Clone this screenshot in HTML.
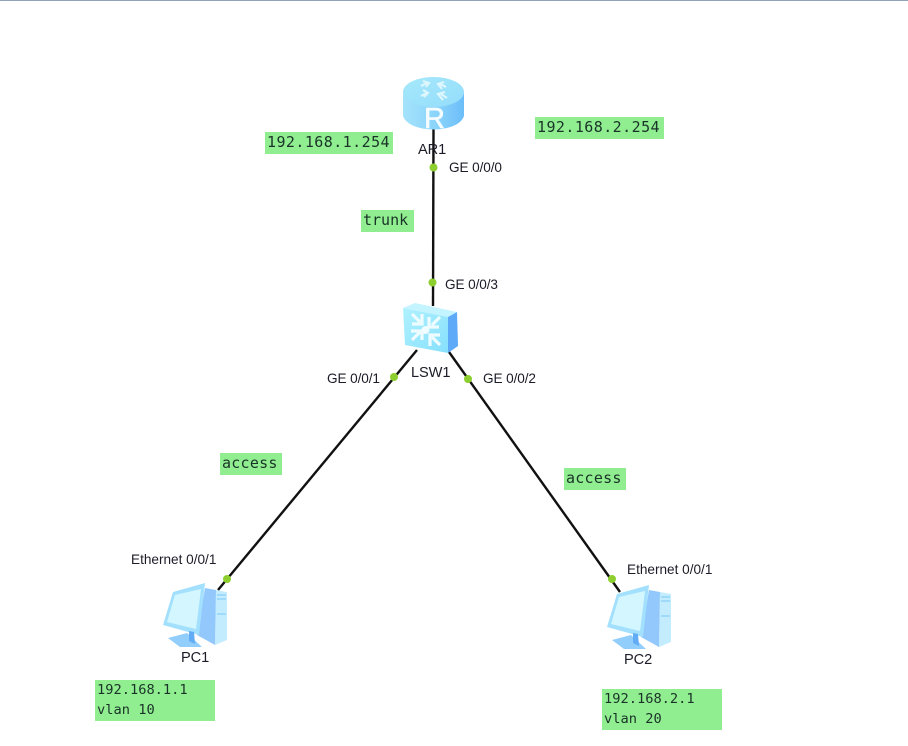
<!DOCTYPE html>
<html>
<head>
<meta charset="utf-8">
<style>
html,body{margin:0;padding:0;width:908px;height:746px;background:#fff;overflow:hidden}
#w{position:relative;width:908px;height:746px;overflow:hidden}
.t{position:absolute;background:#90ee90;color:#1a3328;font-family:"DejaVu Sans Mono","Liberation Mono",monospace;font-size:15px;line-height:21px;white-space:pre;padding-left:2px;box-sizing:border-box}
.s{font-size:13.7px;line-height:20px;letter-spacing:0}
.l{position:absolute;font-family:"Liberation Sans",sans-serif;font-size:13.6px;line-height:14px;color:#1c1c28;white-space:pre;letter-spacing:-0.1px}
.n{font-size:14.6px}
svg{position:absolute;left:0;top:0}
.ic{filter:blur(.35px)}
</style>
</head>
<body>
<div id="w">
<div style="position:absolute;left:0;top:0;width:908px;height:1px;background:#8fa3b8"></div>
<svg width="908" height="746" viewBox="0 0 908 746">
<defs>
<linearGradient id="rs" x1="0" x2="1" y1="0" y2="0"><stop offset="0" stop-color="#a5e3fb"/><stop offset="0.6" stop-color="#88d2fb"/><stop offset="1" stop-color="#6cbdf9"/></linearGradient>
<linearGradient id="rt" x1="0" x2="1" y1="0" y2="1"><stop offset="0" stop-color="#a6e9fb"/><stop offset="1" stop-color="#93dcfb"/></linearGradient>
<linearGradient id="sw" x1="0" x2="1" y1="0" y2="1"><stop offset="0" stop-color="#b0f1ff"/><stop offset="1" stop-color="#86e0fc"/></linearGradient>
<g id="pc" class="ic">
<path d="M54 8 L65 10 L65 58 L53 63 Z" fill="#c4ecff"/>
<path d="M43 6 L54 8 L53 63 L35 53 Z" fill="#92c8fb"/>
<path d="M55 13 H64 M55 17 H64 M55 32 H64" stroke="#8bd0f8" stroke-width="1.2"/>
<path d="M1 43 L11 10 L43 1 L37 53 Z" fill="#a2e0fd"/>
<path d="M5 40 L13 13 L39 7 L34 47 Z" fill="#d4f7ff"/>
<path d="M6 56 L25 51 L40 65 L18 65 Z" fill="#92cefb"/>
<path d="M27 49 L32 50 L33 62 L27 59 Z" fill="#62acf6"/>
</g>
</defs>
<g stroke="#111" stroke-width="2.4" fill="none">
<line x1="433.500" y1="128" x2="433" y2="306"/>
<line x1="417" y1="350" x2="218" y2="590"/>
<line x1="449" y1="352" x2="620" y2="592"/>
</g>
<g class="ic" transform="translate(403,76)">
<path d="M0 17 V40 C6 58 55 58 61 40 V17 Z" fill="url(#rs)"/>
<ellipse cx="30.500" cy="16" rx="30.500" ry="15" fill="url(#rt)"/>
<g fill="none" stroke="#def6fd" stroke-width="2.2">
<path d="M18 10 L24 7 M20 5 L26 7 L23 11"/>
<path d="M43 11 L37 8 M39 13 L35 8 L41 6"/>
<path d="M18 20 L24 17 M20 14 L25 17 L21 21"/>
<path d="M44 22 L38 18 M40 24 L35 18 L42 16"/>
</g>
</g>
<text class="ic" x="434.500" y="128" text-anchor="middle" font-family="Liberation Sans,sans-serif" font-size="29" fill="#f4fcff" stroke="#f4fcff" stroke-width=".6">R</text>
<g class="ic" transform="translate(403,302)">
<path d="M0 6 L12 1 L54 10 L45 15 Z" fill="#c4f4ff"/>
<path d="M45 15 L54 10 L55 44 L45 51 Z" fill="#5eaaf8"/>
<path d="M0 6 L45 15 L45 51 L2 43 Z" fill="url(#sw)"/>
<g fill="none" stroke="#eefcff" stroke-width="3.2">
<path d="M9 12 L17 20 M19 12 V22 H9"/>
<path d="M37 15 L29 23 M26 15 V25 H36"/>
<path d="M9 38 L17 30 M8 29 H19 V38"/>
<path d="M37 43 L29 35 M27 44 V33 H37"/>
</g>
<circle cx="22.500" cy="28" r="4" fill="#f0fcff"/>
</g>
<use href="#pc" x="162" y="582"/>
<use href="#pc" x="606" y="584"/>
<g fill="#8ccf2e">
<circle cx="433.500" cy="167.500" r="4"/>
<circle cx="432.500" cy="282.500" r="4"/>
<circle cx="394" cy="377" r="4"/>
<circle cx="468" cy="379" r="4"/>
<circle cx="227" cy="579" r="4"/>
<circle cx="612" cy="579" r="4"/>
</g>
</svg>
<div class="l n" style="left:418px;top:143px">AR1</div>
<div class="l" style="left:449px;top:161px">GE 0/0/0</div>
<div class="l" style="left:445px;top:278px">GE 0/0/3</div>
<div class="l n" style="left:411px;top:366px">LSW1</div>
<div class="l" style="left:327px;top:372px">GE 0/0/1</div>
<div class="l" style="left:483px;top:372px">GE 0/0/2</div>
<div class="l" style="left:131px;top:553px;letter-spacing:0">Ethernet 0/0/1</div>
<div class="l" style="left:627px;top:563px;letter-spacing:0">Ethernet 0/0/1</div>
<div class="l n" style="left:181px;top:651px">PC1</div>
<div class="l n" style="left:624px;top:653px">PC2</div>
<div class="t" style="left:265px;top:132px;width:128px;height:22px;letter-spacing:.43px">192.168.1.254</div>
<div class="t" style="left:535px;top:117px;width:129px;height:22px;letter-spacing:.43px">192.168.2.254</div>
<div class="t" style="left:361px;top:210px;width:53px;height:22px">trunk</div>
<div class="t" style="left:220px;top:453px;width:62px;height:22px;letter-spacing:.25px">access</div>
<div class="t" style="left:564px;top:468px;width:62px;height:22px;letter-spacing:.25px">access</div>
<div class="t s" style="left:95px;top:680px;width:120px;height:41px">192.168.1.1
vlan 10</div>
<div class="t s" style="left:602px;top:689px;width:120px;height:41px">192.168.2.1
vlan 20</div>
</div>
</body>
</html>
